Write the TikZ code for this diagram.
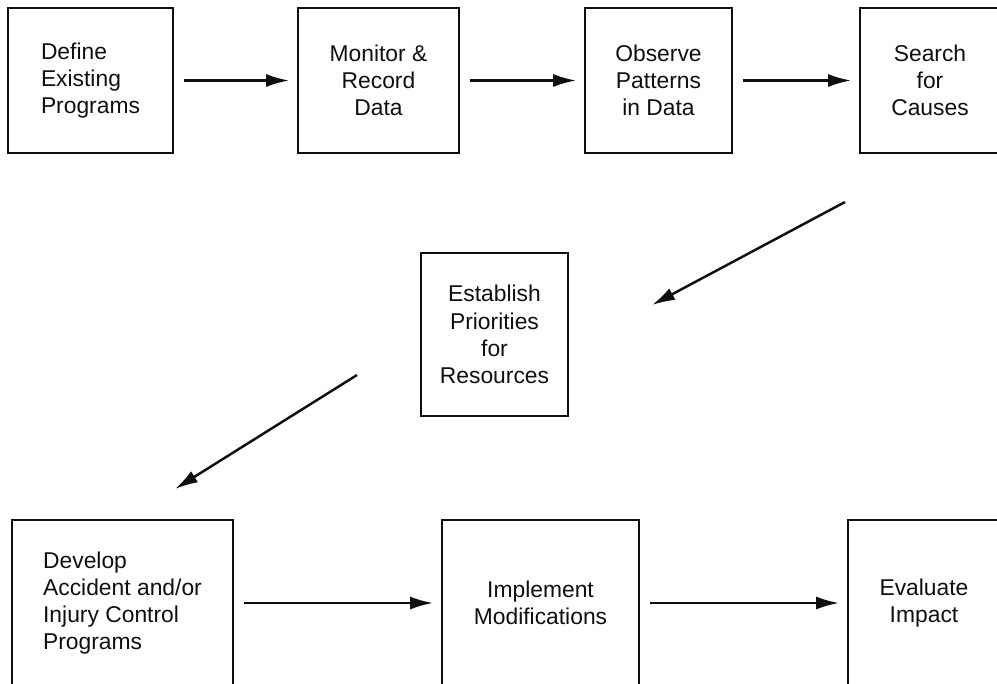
\documentclass[tikz,border=0pt]{standalone}
\usepackage{fontspec}
\setmainfont{Liberation Sans}
\usetikzlibrary{arrows.meta}
\definecolor{FlowInk}{RGB}{15, 15, 15}

\begin{document}
\begin{tikzpicture}[x=0.02cm, y=-0.02cm,
  box/.style={draw=FlowInk, line width=1pt, inner sep=0pt, align=center,
    font=\fontsize{13}{15.5}\selectfont, text=FlowInk},
  flow/.style={draw=FlowInk, line width=1.4pt, -{Latex[length=4.6mm,width=2.6mm]},
    shorten <=0.2cm, shorten >=0.16cm}]

% Page frame
\useasboundingbox (0,0) rectangle (997,683);
\clip (0,0) rectangle (997,683);

% Top row boxes
\node[box, align=left, minimum width=3.3cm, minimum height=2.9cm] (define) at (90.5,80.5) {Define\\Existing\\Programs};
\node[box, minimum width=3.22cm, minimum height=2.9cm] (monitor) at (378.5,80.5) {Monitor \&\\Record\\Data};
\node[box, minimum width=2.94cm, minimum height=2.9cm] (observe) at (658.5,80.5) {Observe\\Patterns\\in Data};
\node[box, minimum width=2.8cm, minimum height=2.9cm] (search) at (930,80.5) {Search\\for\\Causes};

% Middle box
\node[box, minimum width=2.94cm, minimum height=3.26cm] (establish) at (494.5,334.5) {Establish\\Priorities\\for\\Resources};

% Bottom row boxes
\node[box, align=left, minimum width=4.42cm, minimum height=3.32cm] (develop) at (122.5,603) {Develop\\Accident and/or\\Injury Control\\Programs};
\node[box, minimum width=3.94cm, minimum height=3.32cm] (implement) at (540.5,603) {Implement\\Modifications};
\node[box, minimum width=3.04cm, minimum height=3.32cm] (evaluate) at (924,603) {Evaluate\\Impact};

% Free ends of the diagonal arrows
\coordinate (searchout) at (845,202);
\coordinate (establishin) at (652,305);
\coordinate (establishout) at (357,375);
\coordinate (developin) at (175,489);

% Connectors
\draw[flow] (define) -- (monitor);
\draw[flow] (monitor) -- (observe);
\draw[flow] (observe) -- (search);
\draw[flow, shorten <=0pt, shorten >=0pt] (searchout) -- (establishin);
\draw[flow, shorten <=0pt, shorten >=0pt] (establishout) -- (developin);
\draw[flow] (develop) -- (implement);
\draw[flow] (implement) -- (evaluate);

\end{tikzpicture}
\end{document}
